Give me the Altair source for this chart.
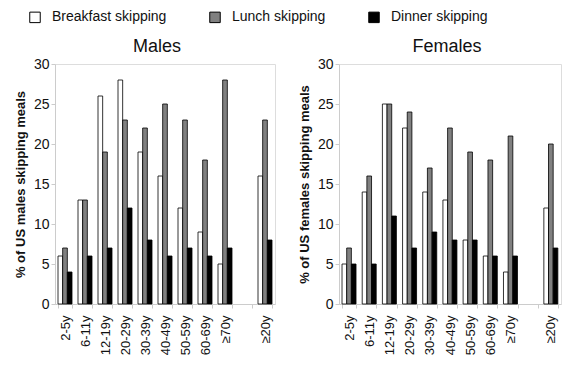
import altair as alt
import pandas as pd

slots = ["2-5y", "6-11y", "12-19y", "20-29y", "30-39y", "40-49y", "50-59y",
         "60-69y", "≥70y", "gap", "≥20y"]
ages = ["2-5y", "6-11y", "12-19y", "20-29y", "30-39y", "40-49y", "50-59y",
        "60-69y", "≥70y", "≥20y"]
meals = ["Breakfast skipping", "Lunch skipping", "Dinner skipping"]

male_breakfast = [6, 13, 26, 28, 19, 16, 12, 9, 5, 16]
male_lunch = [7, 13, 19, 23, 22, 25, 23, 18, 28, 23]
male_dinner = [4, 6, 7, 12, 8, 6, 7, 6, 7, 8]

female_breakfast = [5, 14, 25, 22, 14, 13, 8, 6, 4, 12]
female_lunch = [7, 16, 25, 24, 17, 22, 19, 18, 21, 20]
female_dinner = [5, 5, 11, 7, 9, 8, 8, 6, 6, 7]

rows = []
for sex, series in [("Males", [male_breakfast, male_lunch, male_dinner]),
                    ("Females", [female_breakfast, female_lunch, female_dinner])]:
    for meal, vals in zip(meals, series):
        for age, v in zip(ages, vals):
            rows.append({"sex": sex, "age": age, "meal": meal, "value": v})
df = pd.DataFrame(rows)

FONT = "Liberation Sans"


def panel(sex, ytitle, width, title_dx):
    return alt.Chart(df[df.sex == sex]).mark_bar(stroke="black", strokeWidth=0.8).encode(
        x=alt.X("age:N", sort=slots,
                scale=alt.Scale(domain=slots, paddingInner=0.3, paddingOuter=0.15),
                axis=alt.Axis(title=None, labelAngle=-90,
                              labelExpr="datum.value == 'gap' ? '' : datum.value",
                              tickBand="extent", labelFontSize=13, labelPadding=7,
                              domainColor="#cccccc", tickColor="#cccccc", tickSize=4,
                              labelColor="#111111", labelFont=FONT)),
        xOffset=alt.XOffset("meal:N", sort=meals, scale=alt.Scale(domain=meals)),
        y=alt.Y("value:Q", scale=alt.Scale(domain=[0, 30]),
                axis=alt.Axis(values=[0, 5, 10, 15, 20, 25, 30], title=ytitle, grid=False,
                              labelFontSize=14, titleFontSize=13, titleFont=FONT,
                              labelFont=FONT, titleFontWeight="bold",
                              domainColor="#cccccc", tickColor="#cccccc", tickSize=4,
                              labelColor="#111111", titleColor="#111111",
                              titlePadding=6)),
        color=alt.Color("meal:N", sort=meals,
                        scale=alt.Scale(domain=meals, range=["white", "#808080", "black"]),
                        legend=alt.Legend(title=None, orient="none", direction="horizontal",
                                          legendX=-27, legendY=-54,
                                          symbolType="square", symbolSize=110,
                                          symbolStrokeColor="black", symbolStrokeWidth=1,
                                          labelFontSize=14, labelFont=FONT,
                                          labelColor="#111111", columnPadding=40,
                                          labelOffset=10)),
    ).properties(width=width, height=240,
                 title=alt.Title(sex, fontSize=18, fontWeight="normal", font=FONT,
                                 color="#111111", offset=1, dx=title_dx))


chart = alt.hconcat(
    panel("Males", "% of US males skipping meals", 220, -8),
    panel("Females", "% of US females skipping meals", 222, -3),
    spacing=21,
).properties(
    padding={"left": 5, "top": 2, "right": 5, "bottom": 5}
).configure_view(stroke=None).configure(background="white")

chart.save("out.html", embed_options={"renderer": "svg", "actions": False})
